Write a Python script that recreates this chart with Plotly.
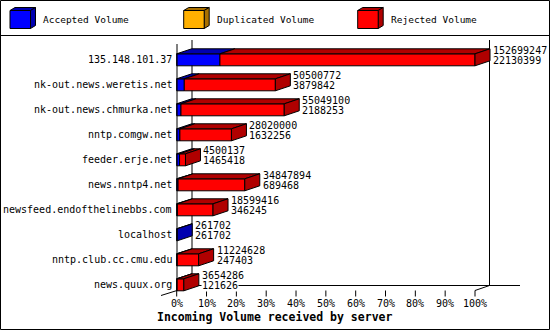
import plotly.graph_objects as go

# ---------------- data ----------------
hosts = [
    "135.148.101.37",
    "nk-out.news.weretis.net",
    "nk-out.news.chmurka.net",
    "nntp.comgw.net",
    "feeder.erje.net",
    "news.nntp4.net",
    "newsfeed.endofthelinebbs.com",
    "localhost",
    "nntp.club.cc.cmu.edu",
    "news.quux.org",
]
total_volume = [152699247, 50500772, 55049100, 28020000, 4500137,
                34847894, 18599416, 261702, 11224628, 3654286]
accepted_volume = [22130399, 3879842, 2188253, 1632256, 1465418,
                   689468, 346245, 261702, 247403, 121626]
tick_values = [0, 10, 20, 30, 40, 50, 60, 70, 80, 90, 100]
tick_labels = [f"{v}%" for v in tick_values]
legend_labels = ["Accepted Volume", "Duplicated Volume", "Rejected Volume"]
x_title = "Incoming Volume received by server"

# ---------------- styles ----------------
W, H = 550, 330
FONT = "DejaVu Sans Mono"
BLUE, BLUE_D = "#0000FF", "#0000B0"
ORANGE, ORANGE_D = "#FFB000", "#A87000"
RED, RED_D = "#FF0000", "#B00000"

X0_PX, X100_PX = 176.7, 475.0
PX_PER_PCT = (X100_PX - X0_PX) / 100.0
Y0_PX, ROW_PX = 59.8, 25.0
x_range = [-X0_PX / PX_PER_PCT, (W - X0_PX) / PX_PER_PCT]
y_range = [(H - Y0_PX) / ROW_PX, -Y0_PX / ROW_PX]
DEPTH_X = 15 / PX_PER_PCT
DEPTH_Y = 5 / ROW_PX
BAR_H = 12 / ROW_PX


def px(x):
    return x / W


def py(y):
    return 1 - y / H


max_total = max(total_volume)
tot_pct = [t / max_total * 100 for t in total_volume]
acc_pct = [a / max_total * 100 for a in accepted_volume]
rej_pct = [t - a for t, a in zip(tot_pct, acc_pct)]
idx = list(range(len(hosts)))

fig = go.Figure()

# front faces
fig.add_bar(y=idx, x=acc_pct, base=[0] * len(idx), orientation="h", width=BAR_H,
            marker=dict(color=BLUE, line=dict(color="black", width=1)),
            hoverinfo="skip", showlegend=False)
fig.add_bar(y=idx, x=[r if r > 1e-9 else None for r in rej_pct], base=acc_pct,
            orientation="h", width=BAR_H,
            marker=dict(color=RED, line=dict(color="black", width=1)),
            hoverinfo="skip", showlegend=False)


def poly(xs, ys, color):
    fig.add_scatter(x=xs + [xs[0]], y=ys + [ys[0]], mode="lines", fill="toself",
                    fillcolor=color, line=dict(color="black", width=1),
                    hoverinfo="skip", showlegend=False)


for i in idx:
    top = i - BAR_H / 2
    bot = i + BAR_H / 2
    segs = [(0, acc_pct[i], BLUE_D)]
    if rej_pct[i] > 1e-9:
        segs.append((acc_pct[i], tot_pct[i], RED_D))
    for a, b, c in segs:
        poly([a, a + DEPTH_X, b + DEPTH_X, b],
             [top, top - DEPTH_Y, top - DEPTH_Y, top], c)
    end, c = segs[-1][1], segs[-1][2]
    poly([end, end + DEPTH_X, end + DEPTH_X, end],
         [top, top - DEPTH_Y, bot - DEPTH_Y, bot], c)

shapes = []
line_k = dict(color="black", width=1)
# back walls / floor (behind bars)
for (x0, y0, x1, y1) in [(192, 40, 192, 285), (489.5, 40, 489.5, 285),
                         (192, 285.5, 520, 285.5)]:
    shapes.append(dict(type="line", xref="paper", yref="paper",
                       x0=px(x0), y0=py(y0), x1=px(x1), y1=py(y1),
                       line=line_k, layer="below"))
for (x0, y0, x1, y1) in [(177, 44, 177, 290.5), (475, 290.5, 489.5, 285.5),
                         (161, 295.5, 177, 290.5)]:
    shapes.append(dict(type="line", xref="paper", yref="paper",
                       x0=px(x0), y0=py(y0), x1=px(x1), y1=py(y1),
                       line=line_k, layer="above"))
# ticks
for v in tick_values:
    shapes.append(dict(type="line", xref="x", yref="paper", x0=v, x1=v,
                       y0=py(290.5), y1=py(296.5), line=line_k))
# outer frame + legend separator
shapes.append(dict(type="rect", xref="paper", yref="paper", x0=px(0.5), x1=px(549.5),
                   y0=py(0.5), y1=py(329.5), line=line_k))
shapes.append(dict(type="line", xref="paper", yref="paper", x0=0, x1=1,
                   y0=py(35.5), y1=py(35.5), line=line_k))

# legend cubes
annotations = []
legend_x = [10, 183.7, 357.7]
legend_cols = [(BLUE, BLUE_D), (ORANGE, ORANGE_D), (RED, RED_D)]
for lx, (cf, cd), lab in zip(legend_x, legend_cols, legend_labels):
    fx0, fx1, fy0, fy1 = lx, lx + 20.5, 10.5, 28.5
    dx, dy = 5, -3

    def path(pts):
        return "M " + " L ".join(f"{px(a)},{py(b)}" for a, b in pts) + " Z"

    shapes.append(dict(type="path", xref="paper", yref="paper",
                       path=path([(fx0, fy0), (fx0 + dx, fy0 + dy), (fx1 + dx, fy0 + dy), (fx1, fy0)]),
                       fillcolor=cd, line=line_k))
    shapes.append(dict(type="path", xref="paper", yref="paper",
                       path=path([(fx1, fy0), (fx1 + dx, fy0 + dy), (fx1 + dx, fy1 + dy), (fx1, fy1)]),
                       fillcolor=cd, line=line_k))
    shapes.append(dict(type="rect", xref="paper", yref="paper",
                       x0=px(fx0), x1=px(fx1), y0=py(fy0), y1=py(fy1),
                       fillcolor=cf, line=line_k))
    annotations.append(dict(xref="paper", yref="paper", x=px(lx + 31), y=py(20),
                            xanchor="left", yanchor="middle", showarrow=False,
                            text=lab, font=dict(family=FONT, size=9.5, color="black")))

# category labels
for i, h in zip(idx, hosts):
    annotations.append(dict(xref="x", yref="y", x=0, y=i, xanchor="right",
                            yanchor="middle", xshift=-3, yshift=0.5, showarrow=False,
                            text=h, font=dict(family=FONT, size=10, color="black")))

# value labels
for i in idx:
    for txt, ys in [(str(total_volume[i]), 9.5), (str(accepted_volume[i]), -1)]:
        annotations.append(dict(xref="x", yref="y", x=tot_pct[i] + DEPTH_X, y=i,
                                xanchor="left", yanchor="middle", xshift=2, yshift=ys,
                                showarrow=False, text=txt, bgcolor="white", borderpad=0,
                                font=dict(family=FONT, size=10, color="black")))

# tick labels
for v, t in zip(tick_values, tick_labels):
    annotations.append(dict(xref="x", yref="paper", x=v, y=py(303), xanchor="center",
                            yanchor="middle", showarrow=False, text=t,
                            font=dict(family=FONT, size=10, color="black")))

annotations.append(dict(xref="paper", yref="paper", x=px(274.2), y=py(317),
                        xanchor="center", yanchor="middle", showarrow=False,
                        text=f"<b>{x_title}</b>",
                        font=dict(family=FONT, size=11.5, color="black")))

fig.update_layout(
    width=W, height=H, margin=dict(l=0, r=0, t=0, b=0),
    paper_bgcolor="white", plot_bgcolor="white",
    barmode="overlay", showlegend=False,
    xaxis=dict(range=x_range, visible=False, fixedrange=True),
    yaxis=dict(range=y_range, visible=False, fixedrange=True),
    shapes=shapes, annotations=annotations,
)

fig.write_html("out.html")
